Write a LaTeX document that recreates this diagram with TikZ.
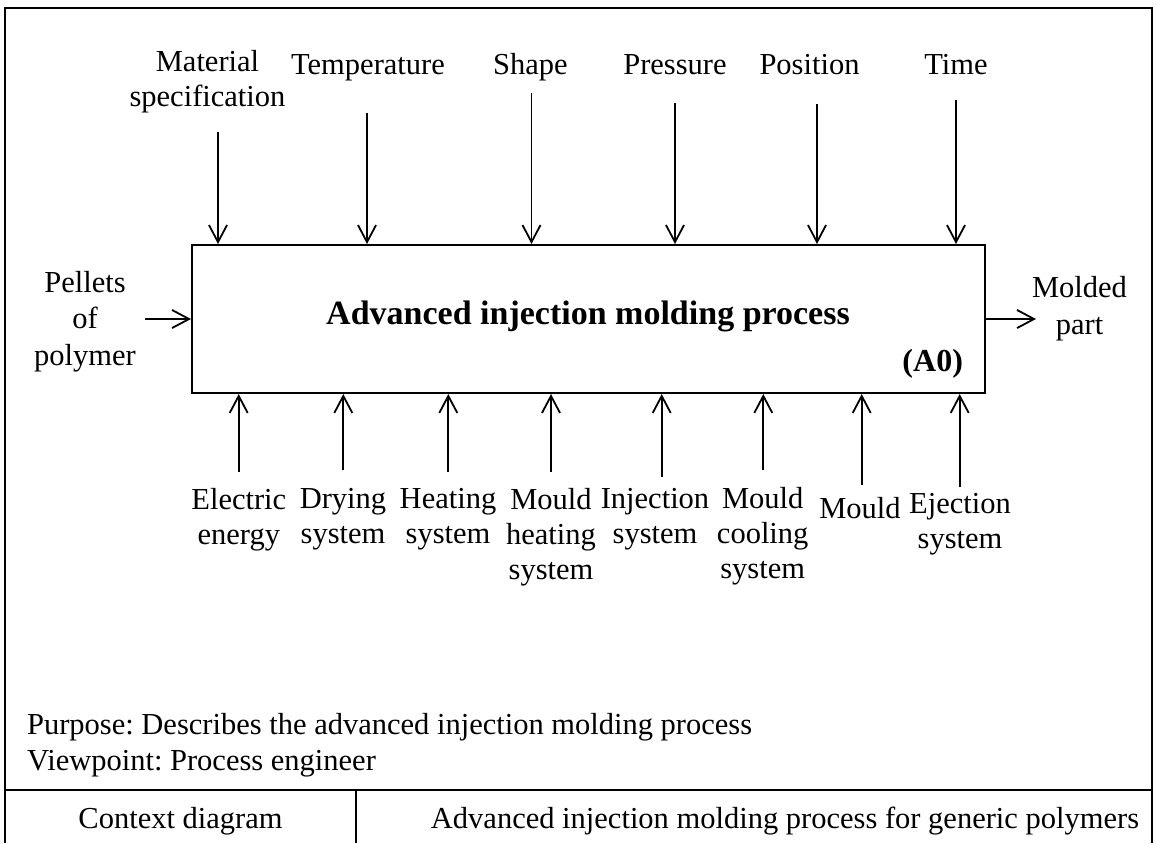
\documentclass[tikz,border=0pt]{standalone}
\usepackage{fontspec}
\setmainfont{Liberation Serif}
\usetikzlibrary{arrows.meta}
\frenchspacing
\begin{document}
\begin{tikzpicture}[x=0.5pt,y=-0.5pt,
  lbl/.style={align=center,inner sep=0pt,anchor=north,
    font=\fontsize{15.25}{17.5}\selectfont,execute at begin node=\strut},
  sidelbl/.style={lbl,font=\fontsize{15.25}{18.3}\selectfont},
  plain/.style={inner sep=0pt,anchor=base,font=\fontsize{15.25}{18.3}\selectfont},
  flow/.style={-{Straight Barb[length=8.5pt,width=9pt]},line width=0.9pt},
  frame/.style={line width=1pt},
  activity/.style={draw,line width=1pt,inner sep=0pt,
    minimum width=396.5pt,minimum height=74pt}]
\useasboundingbox (0,0) rectangle (1157,843);

% outer frame and title block
\draw[frame] (5,843) -- (5,8) -- (1152,8) -- (1152,843);
\draw[frame] (5,790) -- (1152,790);
\draw[frame] (356,790) -- (356,843);

% activity box
\node[activity] (a0) at (588.5,319) {};
\node[inner sep=0pt,anchor=base,font=\bfseries\fontsize{17}{20}\selectfont]
  (title) at (588,324) {Advanced injection molding process};
\node[inner sep=0pt,anchor=base,font=\bfseries\fontsize{16}{19}\selectfont]
  (nodeid) at (932.7,371) {(A0)};

% controls (top)
\node[lbl] (lmat)   at (207.5,49.5) {Material\\specification};
\node[lbl] (ltemp)  at (368,49.5)   {Temperature};
\node[lbl] (lshape) at (530.5,49.5) {Shape};
\node[lbl] (lpress) at (675,49.5)   {Pressure};
\node[lbl] (lpos)   at (809.5,49.5) {Position};
\node[lbl] (ltime)  at (956,49.5)   {Time};

\coordinate (cmat)   at (218,132);
\coordinate (ctemp)  at (367,113);
\coordinate (cshape) at (531.5,93);
\coordinate (cpress) at (675,103);
\coordinate (cpos)   at (817,104);
\coordinate (ctime)  at (956,100);
\foreach \c in {cmat,ctemp,cshape,cpress,cpos,ctime}
  \draw[flow] (\c) -- (\c |- a0.north);

% input and output
\node[sidelbl] (lin)  at (85,270.5)    {Pellets\\of\\polymer};
\node[sidelbl] (lout) at (1079.5,276.2) {Molded\\part};
\coordinate (cin)  at (145,319);
\coordinate (cout) at (1036,319);
\draw[flow] (cin) -- (cin -| a0.west);
\draw[flow] (a0.east) -- (cout);

% mechanisms (bottom)
\coordinate (melec)  at (238.7,472);
\coordinate (mdry)   at (343.3,470);
\coordinate (mheat)  at (448.3,472);
\coordinate (mmheat) at (551,472);
\coordinate (minj)   at (661.7,477);
\coordinate (mcool)  at (763.3,470);
\coordinate (mmould) at (861.7,485);
\coordinate (meject) at (959.7,487);
\foreach \m in {melec,mdry,mheat,mmheat,minj,mcool,mmould,meject}
  \draw[flow] (\m) -- (\m |- a0.south);

\node[lbl] (lelec)  at (238.8,488.2) {Electric\\energy};
\node[lbl] (ldry)   at (343,488.2)   {Drying\\system};
\node[lbl] (lheat)  at (448,488.2)   {Heating\\system};
\node[lbl] (lmheat) at (551,488.2)   {Mould\\heating\\system};
\node[lbl] (linj)   at (655,488.2)   {Injection\\system};
\node[lbl] (lcool)  at (762.7,487)   {Mould\\cooling\\system};
\node[lbl] (lmould) at (860,493.2)   {Mould};
\node[lbl] (leject) at (960,492.5)   {Ejection\\system};

% purpose, viewpoint and title block texts
\node[inner sep=0pt,anchor=north west,align=left,
  font=\fontsize{15.25}{18.35}\selectfont,execute at begin node=\strut]
  (purpose) at (26.7,712.6)
  {Purpose: Describes the advanced injection molding process\\Viewpoint: Process engineer};
\node[plain] (ctx)  at (180.5,828.3) {Context diagram};
\node[plain] (name) at (785,828.3) {Advanced injection molding process for generic polymers};
\end{tikzpicture}
\end{document}
